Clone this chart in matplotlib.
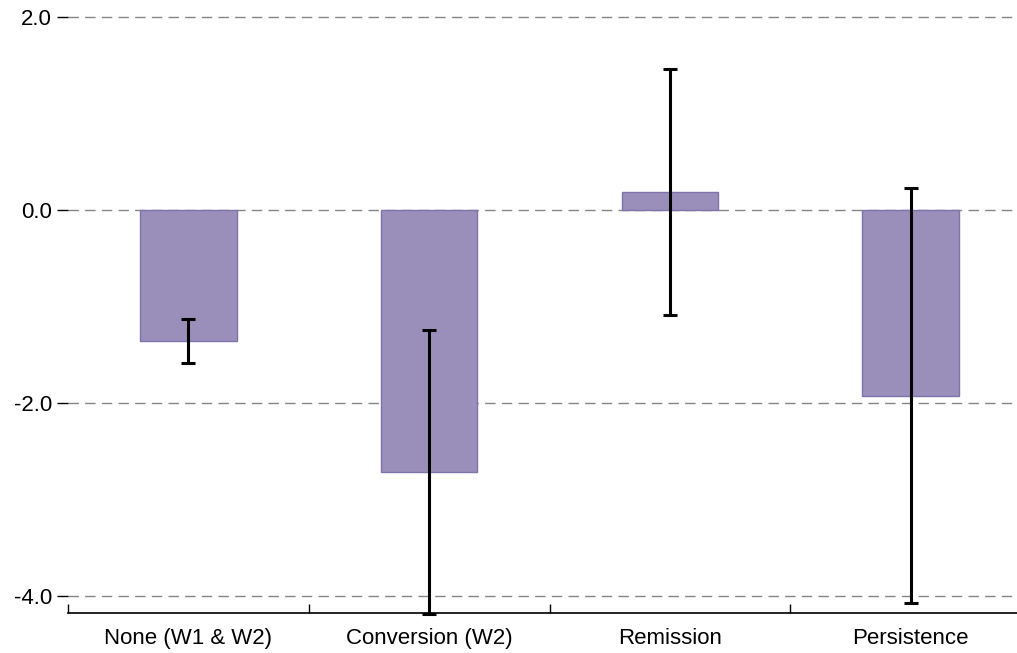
import matplotlib
matplotlib.use("Agg")
import matplotlib.pyplot as plt
import numpy as np

categories = ["None (W1 & W2)", "Conversion (W2)", "Remission", "Persistence"]
values = [-1.36, -2.72, 0.19, -1.93]
err_upper = [-1.13, -1.25, 1.46, 0.23]
err_lower = [-1.59, -4.19, -1.09, -4.08]
yticks = [-4.0, -2.0, 0.0, 2.0]

plt.rcParams['font.family'] = ['Liberation Sans', 'DejaVu Sans']

fig = plt.figure(figsize=(10.17, 6.53), dpi=100)
W, H = 1017, 653
ax = fig.add_axes([68 / W, (H - 613) / H, 963 / W, (613 - 17) / H])

x = np.arange(len(categories))
ax.bar(x, values, width=0.4, color="#9a8fba", edgecolor="#7f73ab", linewidth=1.0, zorder=2)

vals = np.array(values)
yerr = np.array([vals - np.array(err_lower), np.array(err_upper) - vals])
ax.errorbar(x, vals, yerr=yerr, fmt='none', ecolor='black', elinewidth=2.2,
            capsize=5, capthick=2.2, zorder=3, clip_on=False)

ax.set_xlim(-0.5, 3.5)
ax.set_ylim(-4.18, 2.0)

for y in yticks:
    ax.axhline(y, color="#858585", linestyle=(0, (7.5, 4.5)), linewidth=1.0, zorder=1, clip_on=False)

ax.set_yticks(yticks)
ax.set_yticklabels([f"{v:.1f}" for v in yticks])
ax.tick_params(axis='y', length=8, width=1, pad=3.5, labelsize=16, direction='out')

ax.set_xticks(x)
ax.set_xticklabels(categories)
ax.set_xticks(np.arange(-0.5, 4.0, 1.0), minor=True)
ax.tick_params(axis='x', which='major', length=0, pad=11, labelsize=16)
ax.tick_params(axis='x', which='minor', direction='in', length=6.5, width=1)

for s in ['top', 'right', 'left']:
    ax.spines[s].set_visible(False)
ax.spines['bottom'].set_linewidth(1.2)

fig.savefig("out.png", dpi=100)
